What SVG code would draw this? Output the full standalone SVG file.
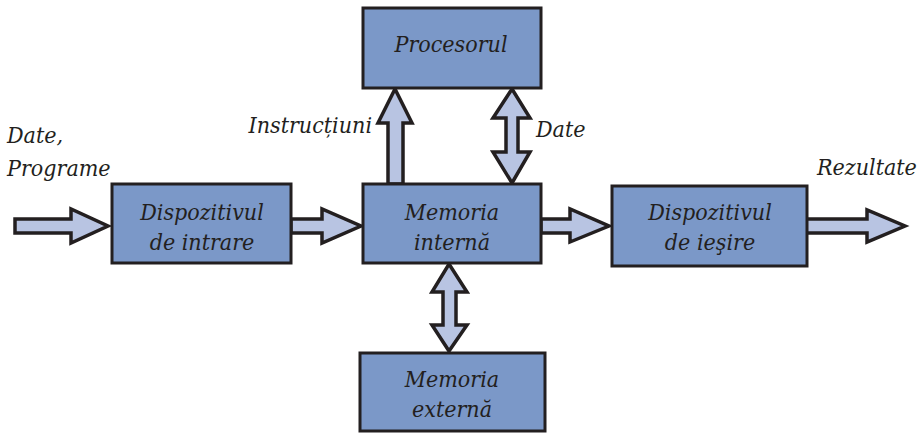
<svg xmlns="http://www.w3.org/2000/svg" width="923" height="433" viewBox="0 0 923 433">
<style>
.box{fill:#7b98c8;stroke:#231f20;stroke-width:3}
.arr{fill:#b8c4e2;stroke:#231f20;stroke-width:3.5;stroke-linejoin:miter}
.t{font-family:'DejaVu Serif Condensed','DejaVu Serif',serif;font-stretch:condensed;font-style:italic;font-size:23px;fill:#231f20}
.c{text-anchor:middle}
</style>
<rect width="923" height="433" fill="#ffffff"/>
<g id="connectors">
<polygon class="arr" points="15,219 71,219 71,209 108,226 71,243 71,233 15,233"/>
<polygon class="arr" points="291,219 322,219 322,209 361,226 322,243 322,233 291,233"/>
<polygon class="arr" points="541,219 570,219 570,209 609,226 570,242 570,233 541,233"/>
<polygon class="arr" points="806,219 867,219 867,210 905,226 867,242 867,233 806,233"/>
<polygon class="arr" points="388,184 388,123 378,123 395,89 412,123 403,123 403,184"/>
<polygon class="arr" points="512,89 530,118 518,118 518,152 530,152 512,183 493,152 506,152 506,118 493,118"/>
<polygon class="arr" points="449,264 467,292 456,292 456,325 467,325 449,351 432,325 443,325 443,292 432,292"/>
</g>
<g id="procesorul"><rect class="box" x="363" y="8" width="178" height="80"/><text class="t c" x="451" y="52">Procesorul</text></g>
<g id="intrare"><rect class="box" x="112" y="184" width="179" height="79"/><text class="t c" x="202" y="220">Dispozitivul</text><text class="t c" x="202" y="250">de intrare</text></g>
<g id="memoria-interna"><rect class="box" x="363" y="184" width="178" height="79"/><text class="t c" x="452" y="220">Memoria</text><text class="t c" x="452" y="250">internă</text></g>
<g id="iesire"><rect class="box" x="612" y="186" width="195" height="80"/><text class="t c" x="710" y="220">Dispozitivul</text><text class="t c" x="710" y="250">de ieşire</text></g>
<g id="memoria-externa"><rect class="box" x="360" y="353" width="185" height="78"/><text class="t c" x="452" y="387">Memoria</text><text class="t c" x="452" y="417">externă</text></g>
<g id="labels">
<text class="t" x="7" y="143">Date,</text>
<text class="t" x="7" y="176">Programe</text>
<text class="t" x="372" y="133" text-anchor="end">Instrucțiuni</text>
<text class="t" x="536" y="137">Date</text>
<text class="t" x="817" y="175">Rezultate</text>
</g>
</svg>
